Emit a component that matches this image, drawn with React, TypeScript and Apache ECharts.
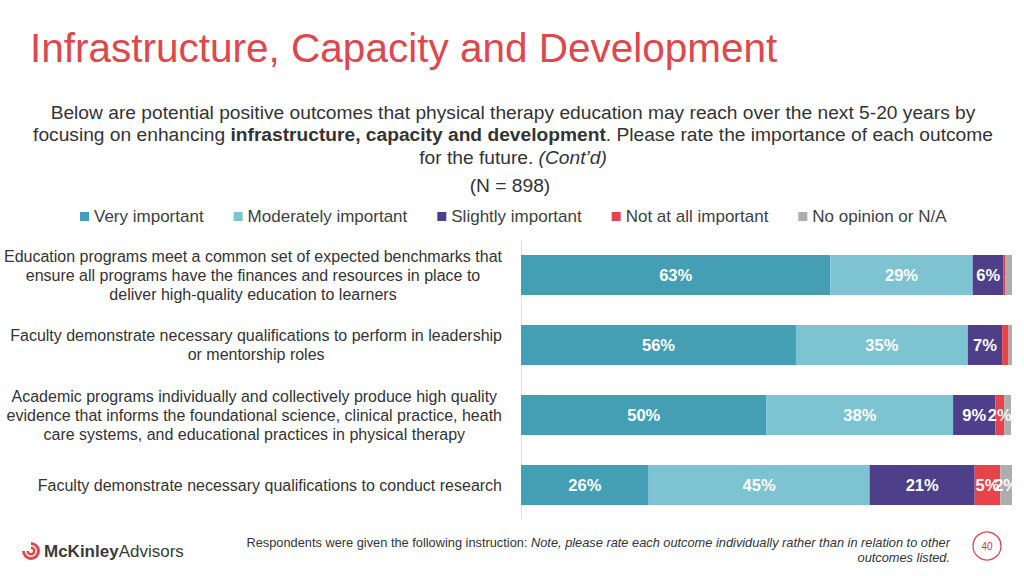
import React, { useEffect, useRef } from "react";
import * as echarts from "echarts";

const categories = [
  "Education programs meet a common set of expected benchmarks that\nensure all programs have the finances and resources in place to\ndeliver high-quality education to learners",
  "Faculty demonstrate necessary qualifications to perform in leadership\nor mentorship roles",
  "Academic programs individually and collectively produce high quality\nevidence that informs the foundational science, clinical practice, heath\ncare systems, and educational practices in physical therapy",
  "Faculty demonstrate necessary qualifications to conduct research",
];

const seriesNames = [
  "Very important",
  "Moderately important",
  "Slightly important",
  "Not at all important",
  "No opinion or N/A",
];

const veryImportant = [63, 56, 50, 26];
const moderatelyImportant = [29, 35, 38, 45];
const slightlyImportant = [6.3, 7, 8.6, 21.4];
const notAtAllImportant = [0.4, 1.3, 1.8, 5.2];
const noOpinion = [1.3, 0.7, 1.4, 2.4];

const seriesValues = [veryImportant, moderatelyImportant, slightlyImportant, notAtAllImportant, noOpinion];
const colors = ["#449FB4", "#7EC3D1", "#4E3F8A", "#E8434A", "#ADADAD"];

const FONT = "'Liberation Sans', Arial, sans-serif";

export default function App() {
  const ref = useRef<HTMLDivElement>(null);

  useEffect(() => {
    if (!ref.current) return;
    echarts.graphic.registerShape(
      "logo",
      echarts.graphic.extendPath(
        "M0,-9 A9,9 0 1,1 -9,0 L-6,0 A6,6 0 1,0 0,-6 Z M0,-4.5 A4.5,4.5 0 1,1 -4.5,0 L-2,0 A2,2 0 1,0 0,-2 Z",
        {}
      ) as any
    );
    const chart = echarts.init(ref.current, undefined, { renderer: "svg" });

    const series = seriesNames.map((name, i) => ({
      name,
      type: "bar",
      stack: "total",
      barWidth: 40,
      data: seriesValues[i],
      itemStyle: { color: colors[i] },
      label: {
        show: true,
        position: "inside",
        color: "#ffffff",
        fontWeight: "bold",
        fontSize: 16.5,
        fontFamily: FONT,
        formatter: (p: any) => (p.value >= 1.5 ? Math.round(p.value) + "%" : ""),
      },
    }));

    chart.setOption({
      animation: false,
      textStyle: { fontFamily: FONT },
      legend: {
        data: seriesNames,
        left: 75,
        top: 203,
        icon: "rect",
        itemWidth: 9,
        itemHeight: 9,
        itemGap: 30,
        textStyle: { fontSize: 17, color: "#404040", fontFamily: FONT },
      },
      grid: { left: 521, right: 12, top: 240, bottom: 56 },
      xAxis: {
        type: "value",
        min: 0,
        max: 100,
        show: false,
      },
      yAxis: {
        type: "category",
        data: categories,
        inverse: true,
        axisLine: { show: true, lineStyle: { color: "#E2E2E2", width: 1 } },
        axisTick: { show: false },
        axisLabel: {
          margin: 19,
          align: "right",
          formatter: (value: string) =>
            value
              .split("\n")
              .map((l) => `{c|${l}}`)
              .join("\n"),
          rich: {
            c: {
              align: "center",
              fontSize: 16,
              lineHeight: 19,
              color: "#333333",
              fontFamily: FONT,
            },
          },
        },
      },
      series,
      graphic: [
        {
          type: "text",
          left: 30,
          top: 27,
          style: {
            text: "Infrastructure, Capacity and Development",
            fill: "#E0474C",
            fontSize: 40.5,
            fontFamily: FONT,
          },
        },
        {
          type: "text",
          x: 513,
          y: 101,
          style: {
            text:
              "{n|Below are potential positive outcomes that physical therapy education may reach over the next 5-20 years by}\n" +
              "{n|focusing on enhancing }{b|infrastructure, capacity and development}{n|. Please rate the importance of each outcome}\n" +
              "{n|for the future. }{i|(Cont’d)}",
            align: "center",
            verticalAlign: "top",
            rich: {
              n: { align: "center", fontSize: 19.2, lineHeight: 22.5, fill: "#333333", fontFamily: FONT },
              b: { align: "center", fontSize: 19.2, lineHeight: 22.5, fill: "#333333", fontWeight: "bold", fontFamily: FONT },
              i: { align: "center", fontSize: 19.2, lineHeight: 22.5, fill: "#333333", fontStyle: "italic", fontFamily: FONT },
            },
          },
        },
        {
          type: "text",
          x: 510,
          y: 185,
          style: {
            text: "(N = 898)",
            align: "center",
            verticalAlign: "middle",
            fontSize: 19.2,
            fill: "#333333",
            fontFamily: FONT,
          },
        },
        {
          type: "text",
          x: 950,
          y: 535,
          style: {
            text:
              "{n|Respondents were given the following instruction: }{i|Note, please rate each outcome individually rather than in relation to other}\n{i|outcomes listed.}",
            align: "right",
            verticalAlign: "top",
            rich: {
              n: { align: "right", fontSize: 12.8, lineHeight: 15, fill: "#333333", fontFamily: FONT },
              i: { align: "right", fontSize: 12.8, lineHeight: 15, fill: "#333333", fontStyle: "italic", fontFamily: FONT },
            },
          },
        },
        {
          type: "circle",
          shape: { cx: 987, cy: 546, r: 14 },
          style: { fill: "none", stroke: "#E0474C", lineWidth: 1.3 },
        },
        {
          type: "text",
          x: 987,
          y: 546,
          style: {
            text: "40",
            align: "center",
            verticalAlign: "middle",
            fontSize: 10,
            fill: "#C0393F",
            fontFamily: FONT,
          },
        },
        {
          type: "logo",
          x: 31,
          y: 551,
          scaleX: 1,
          scaleY: 1,
          style: { fill: "#E0474C" },
        } as any,
        {
          type: "text",
          x: 44,
          y: 551,
          style: {
            text: "{b|McKinley}{r|Advisors}",
            verticalAlign: "middle",
            rich: {
              b: { fontSize: 17, fontWeight: "bold", fill: "#3A3A3A", fontFamily: FONT },
              r: { fontSize: 17, fill: "#3A3A3A", fontFamily: FONT },
            },
          },
        },
      ],
    });

    return () => chart.dispose();
  }, []);

  return (
    <div
      ref={ref}
      style={{ position: "absolute", left: 0, top: 0, width: 1024, height: 576, background: "#fff" }}
    />
  );
}
